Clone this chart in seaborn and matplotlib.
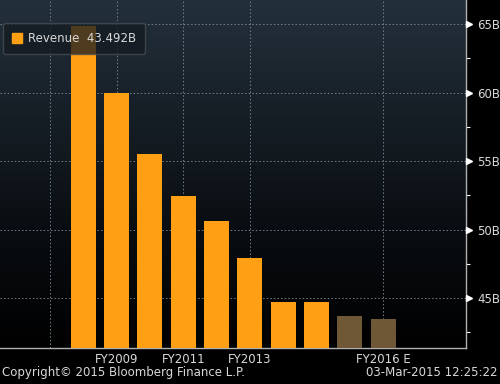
import numpy as np
import pandas as pd
import matplotlib
matplotlib.use('Agg')
import matplotlib.pyplot as plt
import seaborn as sns
from matplotlib.patches import Patch

# values (billions)
periods = ['FY2008', 'FY2009', 'FY2010', 'FY2011', 'FY2012',
           'FY2013', 'FY2014', 'FY2015', 'FY2016 E', 'FY2017 E']
revenue = [64.85, 60.0, 55.55, 52.45, 50.6, 47.9, 44.7, 44.7, 43.7, 43.492]
kind = ['actual'] * 8 + ['estimate'] * 2

tick_pos = [-1, 1, 3, 5, 9]
tick_labels = ['', 'FY2009', 'FY2011', 'FY2013', 'FY2016 E']
y_major = [45, 50, 55, 60, 65]
y_minor = [42.5, 47.5, 52.5, 57.5, 62.5]

ORANGE = '#ffa014'
BROWN = '#6e5836'
TXT = '#d8d8d8'

df = pd.DataFrame({'period': periods, 'revenue': revenue, 'kind': kind})

sns.set_style('dark')
plt.rcParams['font.family'] = ['DejaVu Sans']

fig = plt.figure(figsize=(5, 3.84), dpi=100, facecolor='black')
ax = fig.add_axes([0, 36 / 384, 466 / 500, 348 / 384])
ax.set_facecolor('black')

# background gradient: dark slate at top fading to black
grad = np.linspace(0, 1, 256).reshape(-1, 1)
cmap = matplotlib.colors.LinearSegmentedColormap.from_list(
    'bg', [(0, '#000000'), (0.35, '#0a0e12'), (1, '#23303b')])
ax.imshow(grad, extent=[0, 1, 0, 1], transform=ax.transAxes, origin='lower',
          cmap=cmap, aspect='auto', zorder=-10)

sns.barplot(data=df, x='period', y='revenue', hue='kind', dodge=False,
            palette={'actual': ORANGE, 'estimate': BROWN}, width=0.75,
            saturation=1, linewidth=0, legend=False, ax=ax,
            order=periods, zorder=3)

ax.set_xlim(-2.5, 11.49)
ax.set_ylim(41.36, 66.75)
ax.set_xlabel('')
ax.set_ylabel('')

grid_kw = dict(color='#75808a', linewidth=0.7, linestyle=(0, (1.5, 2.2)), zorder=1)
for y in y_major:
    ax.axhline(y, **grid_kw)
for x in tick_pos:
    ax.axvline(x, **grid_kw)

ax.set_xticks(tick_pos)
ax.set_xticklabels(tick_labels)
ax.tick_params(axis='x', colors='white', labelcolor=TXT, length=2.5,
               width=0.8, labelsize=8.5, pad=1)

ax.yaxis.tick_right()
ax.set_yticks(y_major)
ax.set_yticklabels(['%dB' % v for v in y_major])
ax.set_yticks(y_minor, minor=True)
ax.tick_params(axis='y', which='major', length=0, pad=8, labelcolor=TXT,
               labelsize=8.5)
ax.tick_params(axis='y', which='minor', length=3, width=0.8, colors='white')
ax.grid(False)

# arrow-head markers at the major ticks
trans = matplotlib.transforms.blended_transform_factory(ax.transAxes, ax.transData)
ax.plot([1.007] * len(y_major), y_major, linestyle='none', marker='>',
        markersize=3.8, color='white', transform=trans, clip_on=False, zorder=5)

for side in ['left', 'top']:
    ax.spines[side].set_visible(False)
for side in ['right', 'bottom']:
    ax.spines[side].set_visible(True)
    ax.spines[side].set_color('#b0b0b0')
    ax.spines[side].set_linewidth(1.0)

leg = ax.legend(handles=[Patch(facecolor=ORANGE, edgecolor=ORANGE)],
                labels=['Revenue  43.492B'], loc='upper left',
                bbox_to_anchor=(0.006, 0.934), frameon=True, fancybox=True,
                facecolor='#141a21', edgecolor='#4a4f55', framealpha=0.75,
                fontsize=8.5, handlelength=0.9, handleheight=0.9,
                handletextpad=0.5, borderpad=0.75, borderaxespad=0,
                labelcolor=TXT)
leg.set_zorder(10)

fig.text(0.004, 0.012, 'Copyright\u00a9 2015 Bloomberg Finance L.P.',
         color=TXT, fontsize=8.5, ha='left', va='bottom')
fig.text(0.996, 0.012, '03-Mar-2015 12:25:22',
         color=TXT, fontsize=8.5, ha='right', va='bottom')

fig.savefig('out.png', dpi=100, facecolor='black')
